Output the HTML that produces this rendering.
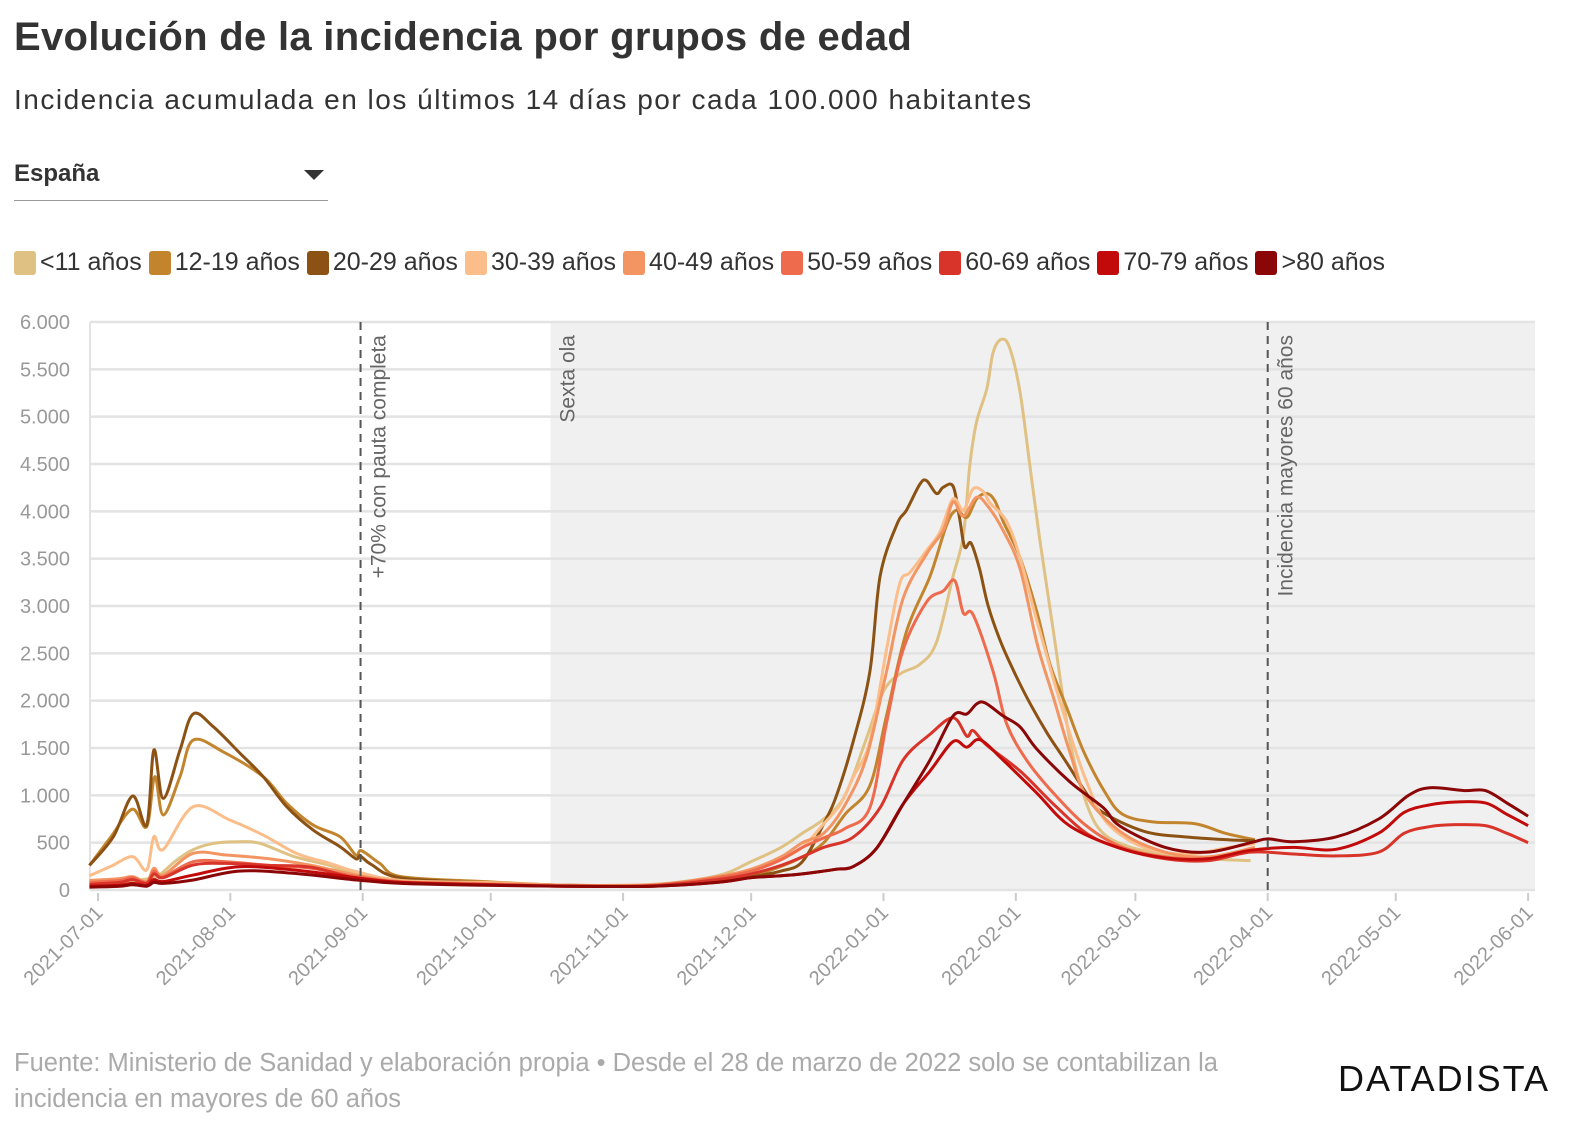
<!DOCTYPE html>
<html><head><meta charset="utf-8"><style>
body{margin:0;background:#fff;font-family:"Liberation Sans",sans-serif;width:1576px;height:1136px;overflow:hidden;position:relative}
.t{position:absolute;white-space:nowrap}
</style></head><body>
<div class="t" style="left:14px;top:15px;font-size:40px;font-weight:bold;color:#333;letter-spacing:0.3px">Evolución de la incidencia por grupos de edad</div>
<div class="t" style="left:14px;top:84px;font-size:28px;color:#333;letter-spacing:1.5px">Incidencia acumulada en los últimos 14 días por cada 100.000 habitantes</div>
<div class="t" style="left:14px;top:160px;width:314px;height:40px;border-bottom:1.5px solid #999;font-size:24px;font-weight:bold;color:#333">España<span style="position:absolute;right:4px;top:10px;width:0;height:0;border-left:10px solid transparent;border-right:10px solid transparent;border-top:10px solid #333"></span></div>
<div id="legend" class="t" style="left:14px;top:248px;font-size:25px;color:#333;display:flex;gap:0"></div>
<svg id="chart" width="1576" height="1136" style="position:absolute;left:0;top:0;pointer-events:none" xmlns="http://www.w3.org/2000/svg"></svg>
<div class="t" style="left:14px;top:1045px;font-size:25.5px;line-height:36px;color:#aaa">Fuente: Ministerio de Sanidad y elaboración propia • Desde el 28 de marzo de 2022 solo se contabilizan la<br>incidencia en mayores de 60 años</div>
<div class="t" style="left:1338px;top:1058px;font-size:36px;color:#111;letter-spacing:2px">DATADISTA</div>
<script>
const names=["<11 años","12-19 años","20-29 años","30-39 años","40-49 años","50-59 años","60-69 años","70-79 años",">80 años"];
const colors=["#dfc283","#c2852e","#8b5214","#fbbd89","#f39562","#ee6b4e","#d9342a","#c20a0a","#8b0606"];
const yTicks=[0,500,1000,1500,2000,2500,3000,3500,4000,4500,5000,5500,6000];
const xTickLabels=["2021-07-01","2021-08-01","2021-09-01","2021-10-01","2021-11-01","2021-12-01","2022-01-01","2022-02-01","2022-03-01","2022-04-01","2022-05-01","2022-06-01"];
const xTickDays=[0,31,62,92,123,153,184,215,243,274,304,335];
// [day since 2021-07-01, incidence]
const sLt11=[[-2,55],[5,60],[10,106],[14,150],[18,300],[22,420],[27,492],[33,510],[38,492],[46,352],[54,264],[60,176],[71,106],[90,80],[110,50],[130,60],[145,150],[153,300],[160,450],[165,600],[170,750],[175,1000],[180,1600],[184,2100],[188,2286],[192.5,2383],[196.4,2616],[200.3,3314],[202.7,3742],[204.2,4479],[205.8,4945],[208.2,5294],[209.7,5682],[211.7,5818],[213.6,5721],[216,5255],[218.3,4479],[220.6,3703],[223.8,2732],[227.7,1568],[231.6,908],[235.5,597],[242,450],[250,380],[260,330],[270,310]];
const s12_19=[[-2,260],[3,560],[8,853],[11.4,669],[13.3,1197],[15.3,792],[19.2,1197],[22.3,1584],[29.3,1460],[38.7,1197],[44.2,915],[50.4,686],[56.7,563],[60.4,369],[61.7,415],[66,281],[71,141],[90,90],[110,50],[130,50],[145,100],[153,150],[160,250],[165,350],[170,500],[175,800],[180.8,1102],[184.7,1839],[189.4,2732],[194.9,3314],[198.8,3858],[201.1,4013],[203.5,3935],[205.8,4130],[208.2,4188],[210.1,4110],[212,3897],[216,3508],[220,2926],[223,2383],[227,1917],[231,1451],[236,1024],[240,800],[247,720],[257,700],[264,600],[271,530]];
const s20_29=[[-2,260],[3.6,563],[8.1,993],[11.4,686],[13.1,1480],[15.3,968],[19.2,1478],[22.3,1860],[27,1725],[33.3,1443],[38.7,1197],[44.2,880],[50.4,633],[56.7,457],[60.4,330],[61.4,360],[64,270],[70.7,130],[90,80],[110,50],[130,50],[145,90],[153,140],[160,200],[165,300],[170,700],[173,1000],[176.9,1568],[180.8,2305],[183.2,3314],[187.1,3858],[189.4,4013],[192.5,4285],[194.1,4324],[196.4,4188],[198,4254],[200.3,4265],[201.8,3935],[203,3625],[204.5,3664],[206.5,3392],[208.5,3004],[211.5,2616],[215,2266],[218.5,1956],[222.5,1645],[226.5,1373],[231.5,1024],[235,830],[245,620],[255,560],[265,530],[271,520]];
const s30_39=[[-2,150],[3,250],[8.1,352],[11.4,211],[13.1,563],[15.3,429],[22.3,880],[30.9,739],[38.7,580],[46.5,387],[54.3,281],[60.5,194],[71,100],[90,80],[110,50],[130,55],[145,130],[153,200],[160,330],[165,450],[170,700],[173.8,900],[177,1200],[180.8,1568],[184.7,2538],[187.8,3237],[190.2,3354],[194.1,3586],[197.2,3780],[200.3,4130],[202.7,4013],[205,4238],[207.4,4207],[208.9,4091],[212.8,3897],[216,3508],[219.9,2849],[223.8,2227],[227.7,1645],[231.6,1141],[236.3,713],[245,450],[255,380],[265,450],[271,490]];
const s40_49=[[-2,100],[5,120],[8.1,141],[11.4,88],[13.1,229],[15.3,158],[22.3,387],[30,370],[40,330],[50,260],[60.5,158],[71,90],[90,70],[110,50],[130,55],[145,140],[153,220],[160,350],[165,500],[170,600],[175,900],[180,1400],[184.7,2305],[188.6,3081],[194.1,3550],[198,3800],[200.3,4100],[202.7,3950],[205.8,4149],[208.5,4050],[212,3800],[216,3392],[220,2600],[223.8,2034],[227.7,1450],[231.6,985],[240,600],[250,400],[260,350],[271,450]];
const s50_59=[[-2,80],[5,100],[8.1,130],[11.4,80],[13.1,200],[15.3,140],[22.3,299],[30,299],[40,260],[50,229],[60.5,141],[71,85],[90,60],[110,45],[130,50],[145,130],[153,200],[160,320],[165,450],[170,550],[175,650],[180.8,869],[184.7,1762],[188.6,2538],[194.1,3043],[198,3159],[200.7,3268],[202.7,2926],[205,2907],[209.7,2305],[212.8,1762],[217.5,1373],[223.8,1024],[231.6,675],[240,450],[250,350],[260,330],[271,420]];
const s60_69=[[-2,60],[5,80],[8.1,110],[11.4,70],[13.1,170],[15.3,130],[22.3,264],[30,281],[40,260],[50,240],[60.5,123],[71,80],[90,60],[110,40],[130,45],[145,110],[153,170],[160,260],[165,350],[170,450],[176.9,558],[183.2,869],[188.6,1373],[194.9,1645],[200.3,1820],[203.5,1626],[205,1684],[208.2,1529],[216,1257],[223.8,908],[231.6,597],[239.4,442],[250,330],[260,310],[270,400],[280,380],[290,360],[300,400],[306,600],[312,670],[318,690],[325,680],[330,600],[335,500]];
const s70_79=[[-2,40],[5,50],[8.1,70],[11.4,50],[13.1,110],[15.3,90],[22.3,158],[33,246],[46,211],[60.5,130],[71,80],[90,55],[110,40],[130,40],[145,80],[153,130],[160,150],[165,170],[170,200],[173,220],[176.9,248],[182.4,442],[188.6,908],[194.9,1257],[200.3,1568],[203.5,1509],[206.6,1587],[212,1373],[219.9,1024],[227.7,675],[239.4,442],[250,340],[260,330],[270,420],[280,450],[290,430],[300,600],[306,820],[312,900],[318,930],[325,920],[330,800],[335,680]];
const s80=[[-2,30],[5,40],[8.1,55],[11.4,40],[13.1,80],[15.3,70],[22.3,106],[33,200],[46,176],[60.5,106],[71,70],[90,50],[110,40],[130,40],[145,80],[153,130],[160,150],[165,170],[170,200],[173,220],[176.9,248],[182.4,442],[188.6,908],[194.9,1373],[200.3,1839],[203.5,1859],[205.8,1965],[207.8,1977],[212,1839],[216,1723],[219.9,1490],[227.7,1141],[235.5,869],[239.4,675],[250,450],[260,400],[270,500],[274,540],[280,510],[290,560],[300,750],[307,1000],[312,1080],[320,1050],[325,1050],[330,920],[335,780]];
const series=[sLt11,s12_19,s20_29,s30_39,s40_49,s50_59,s60_69,s70_79,s80];

const X0=98,PX=4.269,Y0=890,PY=568/6000,L=90,R=1535,T=322;
const xs=d=>X0+d*PX, ys=v=>Y0-v*PY;
const svg=document.getElementById('chart');
const NS="http://www.w3.org/2000/svg";
function mk(tag,at){const e=document.createElementNS(NS,tag);for(const k in at)e.setAttribute(k,at[k]);svg.appendChild(e);return e;}
let e;
e=mk('rect',{x:xs(106),y:T,width:R-xs(106),height:Y0-T,fill:'#f0f0f0'});


yTicks.forEach(v=>{
  e=mk('line',{x1:L,x2:R,y1:ys(v),y2:ys(v),stroke:'#e3e3e3','stroke-width':2.5});
  
  
  e=mk('text',{x:70,y:ys(v)+7,'text-anchor':'end','font-size':20,fill:'#999','font-family':'Liberation Sans, sans-serif'});
  e.textContent=v.toLocaleString('de-DE');
  
  
});
e=mk('line',{x1:L,x2:L,y1:T,y2:Y0,stroke:'#e3e3e3','stroke-width':2});


xTickDays.forEach((d,i)=>{
  const x=xs(d);
  e=mk('line',{x1:x,x2:x,y1:Y0+3,y2:Y0+11,stroke:'#ccc','stroke-width':2});
  
  
  e=mk('text',{x:x+6,y:Y0+24,'text-anchor':'end','font-size':20,fill:'#999','font-family':'Liberation Sans, sans-serif',transform:`rotate(-45 ${x+6} ${Y0+24})`});
  e.textContent=xTickLabels[i];
  
  
});
function path(pts){
  const p=pts.map(a=>[xs(a[0]),ys(a[1])]);
  let s=`M${p[0][0]},${p[0][1]}`;
  for(let i=0;i<p.length-1;i++){
    const p0=p[i-1]||p[i],p1=p[i],p2=p[i+1],p3=p[i+2]||p2;
    const t=6;
    s+=`C${p1[0]+(p2[0]-p0[0])/t},${p1[1]+(p2[1]-p0[1])/t} ${p2[0]-(p3[0]-p1[0])/t},${p2[1]-(p3[1]-p1[1])/t} ${p2[0]},${p2[1]}`;
  }
  return s;
}
series.forEach((s,i)=>{
  e=mk('path',{d:path(s),fill:'none',stroke:colors[i],'stroke-width':3,'stroke-linejoin':'round'});
  
  
});
const annDays=[61.5,274];
const annText=["+70% con pauta completa","Incidencia mayores 60 años"];
annDays.forEach((d,i)=>{
  const x=xs(d);
  e=mk('line',{x1:x,x2:x,y1:T,y2:Y0,stroke:'#555','stroke-width':2,'stroke-dasharray':'8,6'});
  
  
  e=mk('text',{x:x+25,y:T+13,'text-anchor':'end','font-size':21,fill:'#666','font-family':'Liberation Sans, sans-serif',transform:`rotate(-90 ${x+25} ${T+13})`});
  e.textContent=annText[i];
  
  
});
e=mk('text',{x:xs(106)+24,y:T+13,'text-anchor':'end','font-size':21,fill:'#666','font-family':'Liberation Sans, sans-serif',transform:`rotate(-90 ${xs(106)+24} ${T+13})`});
e.textContent="Sexta ola";


const lg=document.getElementById('legend');
names.forEach((n,i)=>{
  const it=document.createElement('div');
  
  
  it.style.cssText='display:flex;align-items:center;margin-right:7px';
  it.innerHTML=`<span style="display:inline-block;width:22px;height:24px;border-radius:3px;background:${colors[i]};margin-right:4px"></span>`;
  it.appendChild(document.createTextNode(n));
  lg.appendChild(it);
});
</script>
</body></html>
